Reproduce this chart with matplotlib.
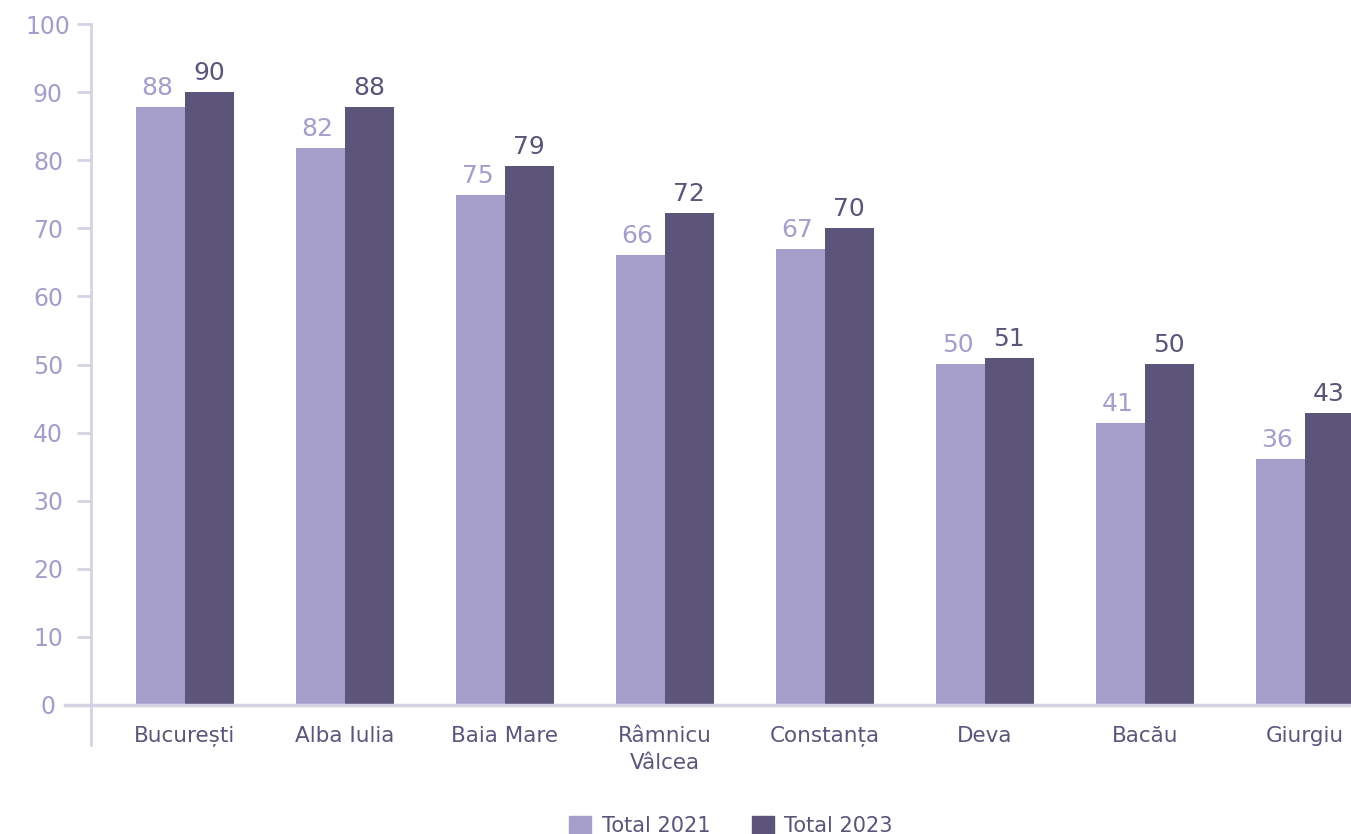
import numpy as np
import matplotlib.pyplot as plt
from matplotlib.patches import Patch

# data
cities = ["București", "Alba Iulia", "Baia Mare", "Râmnicu\nVâlcea",
          "Constanța", "Deva", "Bacău", "Giurgiu"]
total_2021 = [87.8, 81.8, 74.9, 66.1, 67.0, 50.1, 41.4, 36.1]
total_2023 = [90.0, 87.8, 79.1, 72.2, 70.0, 51.0, 50.1, 42.9]
yticks = [0, 10, 20, 30, 40, 50, 60, 70, 80, 90, 100]

light = "#A59ECB"
dark = "#5C5479"
axis_col = "#D6D2E6"

plt.rcParams['font.family'] = ['DejaVu Sans']

W, H = 1351, 834
fig = plt.figure(figsize=(W / 100, H / 100), dpi=100)
ax = fig.add_axes([91 / W, 1 - 705 / H, (W - 91) / W, (705 - 24) / H])

x = np.arange(len(cities))
bw = 0.306
b1 = ax.bar(x - bw / 2, total_2021, bw, color=light, label="Total 2021")
b2 = ax.bar(x + bw / 2, total_2023, bw, color=dark, label="Total 2023")

for rect, v in zip(b1, total_2021):
    ax.annotate(f"{v:.0f}", (rect.get_x() + rect.get_width() / 2, v),
                xytext=(-2, 5), textcoords="offset points", ha="center",
                va="bottom", fontsize=18, color=light)
for rect, v in zip(b2, total_2023):
    ax.annotate(f"{v:.0f}", (rect.get_x() + rect.get_width() / 2, v),
                xytext=(0, 5), textcoords="offset points", ha="center",
                va="bottom", fontsize=18, color=dark, annotation_clip=False)

ax.set_xlim(-0.5875, 7.29)
ax.set_ylim(0, 100)
ax.set_yticks(yticks)
ax.tick_params(axis="y", length=10, width=2, color=axis_col, pad=21,
               labelsize=17, labelcolor=light)
for lab in ax.get_yticklabels():
    lab.set_horizontalalignment("center")
ax.set_xticks(x)
ax.set_xticklabels(cities, fontsize=15.5, color=dark, linespacing=1.45)
ax.tick_params(axis="x", length=0, pad=15)

for s in ["top", "right", "bottom"]:
    ax.spines[s].set_visible(False)
ax.spines["left"].set_color(axis_col)
ax.spines["left"].set_linewidth(2)
# extend left axis below zero and the zero line to the left
ax.plot([0, 0], [0, -40 / 681], transform=ax.transAxes, color=axis_col,
        lw=2, clip_on=False)
ax.axhline(0, xmin=-26 / 1260, xmax=1, color=axis_col, lw=2.5, clip_on=False)

handles = [Patch(color=light), Patch(color=dark)]
fig.legend(handles, ["Total 2021", "Total 2023"], loc="center",
           bbox_to_anchor=(731 / W, 1 - 826 / H), ncol=2, frameon=False,
           fontsize=15, handlelength=1.05, handleheight=1.05,
           handletextpad=0.5, columnspacing=2.0, labelcolor=dark)

fig.savefig("out.png", dpi=100)
